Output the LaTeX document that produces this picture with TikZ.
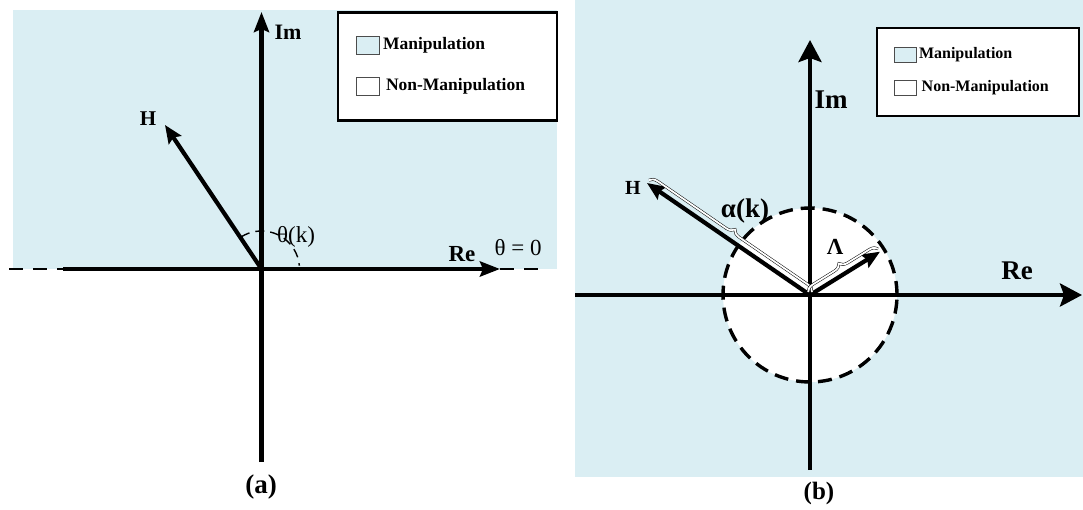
\documentclass[tikz,border=0pt]{standalone}
\usepackage{fontspec}
\setmainfont{Liberation Serif}
\usepackage{tikz}
\usetikzlibrary{arrows.meta,positioning,decorations.pathreplacing}
\definecolor{MBlue}{HTML}{DAEEF3}

\begin{document}
\begin{tikzpicture}[
  x=1pt,y=1pt,
  every node/.style={inner sep=0pt,outer sep=0pt},
  lbl/.style={font=\bfseries\fontsize{#1}{#1}\selectfont},
  rlbl/.style={font=\fontsize{#1}{#1}\selectfont},
  region/.style={fill=MBlue,draw=none},
  vec/.style={line width=4.2pt},
  tipA/.style={-{Stealth[length=20pt,width=15pt,inset=3pt]}},
  tipB/.style={-{Stealth[length=22pt,width=23pt,inset=4pt]}},
  tipV/.style={-{Stealth[length=18pt,width=15pt,inset=3pt]}},
  dashaxis/.style={line width=2.6pt,dash pattern=on 14pt off 10pt},
  legbox/.style={draw=black,fill=white},
  swatch/.style={draw=black!70,line width=0.8pt},
  bracket/.style={decorate,decoration={brace,amplitude=8pt,raise=3.5pt},
    draw=black,line width=0.5pt,double=white,double distance=1.8pt}
]
  \useasboundingbox (0,0) rectangle (1083,509);

  % (a) half plane
  \fill[region] (12.5,240) rectangle (557,499);
  \coordinate (oA) at (261.5,240);
  \coordinate (lA0) at (9,240);
  \coordinate (lA) at (63,240);
  \coordinate (eA) at (500,240);
  \coordinate (eA1) at (547,240);
  \coordinate (botA) at (261.5,47);
  \coordinate (topA) at (261.5,497);
  \coordinate (hA) at (165,384);
  \draw[dashaxis] (lA0) -- (lA);
  \draw[vec] (lA) -- (oA);
  \draw[vec,tipA] (oA) -- (eA);
  \draw[dashaxis] (eA) -- (eA1);
  \draw[vec,tipA] (botA) -- (topA);
  \draw[vec,tipV] (oA) -- (hA);
  \draw[line width=1.4pt,dash pattern=on 9pt off 6pt]
    ([shift={(122:38)}]oA) arc[start angle=122,end angle=5,radius=38];

  \node[lbl=22] (imA) at (288,477) {Im};
  \node[lbl=21] (hAl) at (148,390) {H};
  \node[lbl=23] (reA) at (462,255) {Re};
  \node[rlbl=23] (thA) at (296,272) {θ(k)};
  \node[rlbl=23] (th0) at (518,261) {θ = 0};
  \node[lbl=27] (capA) at (261,22) {(a)};

  \node[legbox,line width=2.5pt,minimum width=219pt,minimum height=108pt]
    (legA) at (447.3,442.3) {};
  \node[swatch,fill=MBlue,minimum width=23pt,minimum height=18pt] (swA1) at (367.5,464) {};
  \node[swatch,fill=white,minimum width=23pt,minimum height=18pt] (swA2) at (367.5,423) {};
  \node[lbl=17.5,right=4pt of swA1] (txA1) {Manipulation};
  \node[lbl=17.5,right=7pt of swA2] (txA2) {Non-Manipulation};

  % (b) disc
  \fill[region] (575,32) rectangle (1083,509);
  \coordinate (oB) at (810,214);
  \coordinate (wB) at (575,214);
  \coordinate (eB) at (1082,214);
  \coordinate (botB) at (810,39);
  \coordinate (topB) at (810,469);
  \coordinate (hB) at (647,326);
  \coordinate (lamB) at (880,257.3);
  \draw[fill=white,line width=3.4pt,dash pattern=on 14pt off 8pt] (oB) circle[radius=87];
  \draw[vec,tipB] (wB) -- (eB);
  \draw[vec,tipB] (botB) -- (topB);
  \draw[vec,tipV] (oB) -- (hB);
  \draw[vec,tipV] (oB) -- (lamB);
  \draw[bracket] (hB) -- (oB);
  \draw[bracket] (oB) -- (lamB);

  \node[lbl=27] (imB) at (831,409) {Im};
  \node[lbl=27] (reB) at (1017,238) {Re};
  \node[lbl=20] (hBl) at (633,321) {H};
  \node[lbl=23] (lamBl) at (835,262) {Λ};
  \node[lbl=27] (alB) at (745,298) {α(k)};
  \node[lbl=25] (capB) at (819,16) {(b)};

  \node[legbox,line width=2pt,minimum width=202pt,minimum height=88pt]
    (legB) at (978,437) {};
  \node[swatch,fill=MBlue,minimum width=22pt,minimum height=15pt] (swB1) at (905,454.5) {};
  \node[swatch,fill=white,minimum width=22pt,minimum height=15pt] (swB2) at (905,421) {};
  \node[lbl=16,right=3pt of swB1] (txB1) {Manipulation};
  \node[lbl=16,right=5.7pt of swB2] (txB2) {Non-Manipulation};
\end{tikzpicture}
\end{document}
